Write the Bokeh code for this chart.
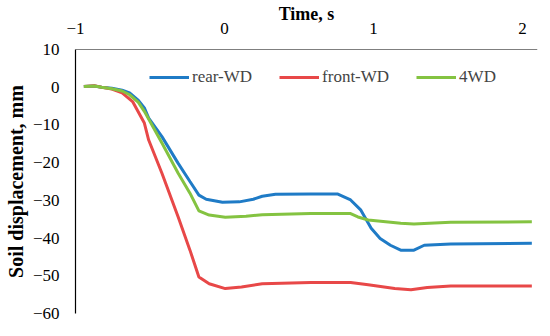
from bokeh.plotting import figure
from bokeh.models import Range1d, LinearAxis, FixedTicker, Legend, LegendItem, Span, Title
from bokeh.embed import file_html
from bokeh.resources import INLINE

# time (s) and soil displacement (mm)
t_rear = [-0.944, -0.874, -0.825, -0.756, -0.687, -0.637, -0.578, -0.538, -0.509, -0.42, -0.311, -0.232, -0.172,
          -0.123, -0.014, 0.099, 0.193, 0.253, 0.342, 0.579, 0.757, 0.846, 0.915, 0.984, 1.044, 1.113, 1.182,
          1.271, 1.34, 1.518, 2.062]
y_rear = [0.2, 0.3, 0.0, -0.3, -0.8, -1.5, -3.5, -5.5, -8.2, -13.1, -20.2, -25.0, -28.6,
          -29.7, -30.5, -30.4, -29.7, -28.9, -28.4, -28.3, -28.3, -29.9, -32.6, -37.4, -40.1, -41.9, -43.2,
          -43.2, -41.9, -41.6, -41.4]

t_front = [-0.944, -0.874, -0.825, -0.756, -0.687, -0.617, -0.538, -0.509, -0.42, -0.311, -0.232, -0.172, -0.103,
           0.005, 0.114, 0.253, 0.579, 0.846, 0.964, 1.142, 1.251, 1.36, 1.518, 2.062]
y_front = [0.2, 0.4, 0.0, -0.5, -1.5, -3.8, -9.5, -14.0, -22.8, -34.4, -43.2, -50.3, -52.1,
           -53.4, -53.0, -52.1, -51.8, -51.8, -52.4, -53.4, -53.7, -53.1, -52.7, -52.7]

t_4wd = [-0.944, -0.874, -0.825, -0.756, -0.687, -0.637, -0.578, -0.538, -0.42, -0.311, -0.232, -0.172, -0.103,
         0.005, 0.144, 0.253, 0.579, 0.846, 0.895, 0.964, 1.182, 1.271, 1.409, 1.518, 2.062]
y_4wd = [0.2, 0.3, 0.0, -0.4, -1.0, -2.0, -4.0, -6.4, -14.8, -22.8, -28.1, -32.8, -33.9,
         -34.5, -34.2, -33.8, -33.5, -33.5, -34.4, -35.2, -36.1, -36.3, -36.0, -35.8, -35.7]

x_ticks = [-1, 0, 1, 2]
y_ticks = [-60, -50, -40, -30, -20, -10, 0, 10]
x_title = "Time, s"
y_title = "Soil displacement, mm"

FONT = "Times New Roman, Liberation Serif, serif"

p = figure(width=542, height=328, output_backend="svg", toolbar_location=None,
           x_range=Range1d(-1.0, 2.10), y_range=Range1d(-60, 10),
           x_axis_location=None, y_axis_location=None,
           min_border_left=74, min_border_top=49, min_border_right=5, min_border_bottom=15)
p.grid.visible = False
p.outline_line_color = None
p.background_fill_color = "white"

xa = LinearAxis(ticker=FixedTicker(ticks=x_ticks), axis_label=x_title)
ya = LinearAxis(ticker=FixedTicker(ticks=y_ticks))
for ax in (xa, ya):
    ax.major_tick_out = 0
    ax.major_tick_in = 0
    ax.minor_tick_out = 0
    ax.minor_tick_in = 0
    ax.major_label_text_font = FONT
    ax.major_label_text_font_size = "17px"
    ax.major_label_text_color = "black"
    ax.axis_label_text_font = FONT
    ax.axis_label_text_font_size = "18px"
    ax.axis_label_text_font_style = "bold"
    ax.axis_label_text_color = "black"
    ax.axis_line_color = "black"
    ax.axis_line_width = 1.2
xa.axis_line_color = None
xa.major_label_standoff = 16
xa.axis_label_standoff = -4
ya.major_label_standoff = 16
p.add_layout(xa, "above")
p.add_layout(ya, "left")
p.add_layout(Span(location=y_ticks[-1], dimension="width", line_color="black", line_width=1.2))

p.add_layout(Title(text=y_title, align="center", offset=-9, standoff=5,
                   text_font=FONT, text_font_size="20px", text_font_style="bold",
                   text_color="black"), "left")

r1 = p.line(t_rear, y_rear, line_color="#1f7bc6", line_width=3)
r2 = p.line(t_front, y_front, line_color="#e84848", line_width=3)
r3 = p.line(t_4wd, y_4wd, line_color="#84c341", line_width=3)

legend = Legend(items=[LegendItem(label="rear-WD", renderers=[r1]),
                       LegendItem(label="front-WD", renderers=[r2]),
                       LegendItem(label="4WD", renderers=[r3])],
                orientation="horizontal", location=(74, 226),
                label_text_font=FONT, label_text_font_size="17px",
                glyph_width=40, glyph_height=20, label_height=20,
                label_standoff=3, spacing=27, padding=0, margin=0,
                border_line_color=None, background_fill_alpha=0)
p.add_layout(legend, "center")

open("out.html", "w").write(file_html(p, INLINE))
